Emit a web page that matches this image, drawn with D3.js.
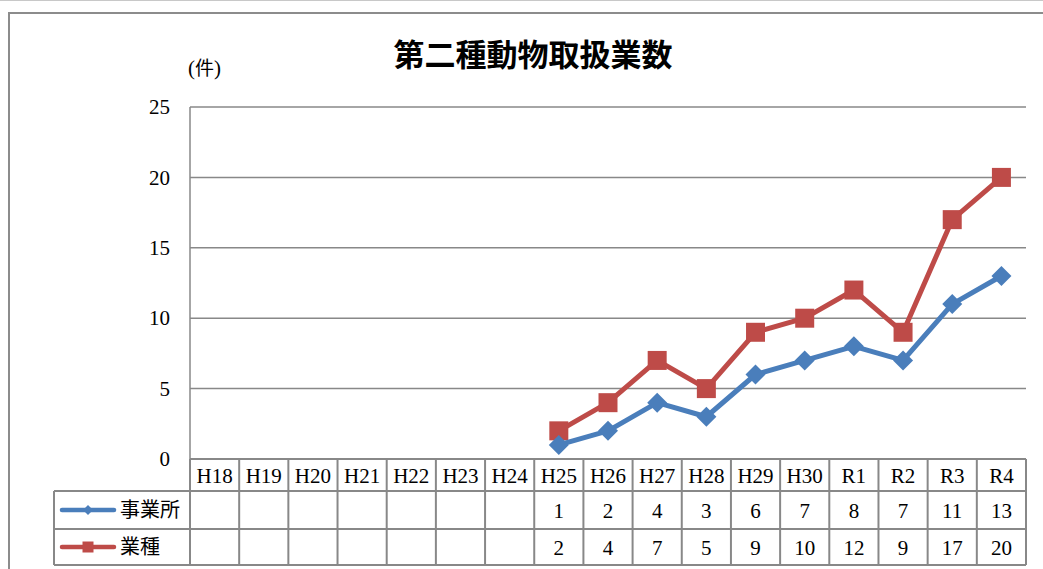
<!DOCTYPE html>
<html>
<head>
<meta charset="utf-8">
<script src="https://cdn.jsdelivr.net/npm/d3@7"></script>
<style>
  body { margin: 0; background: #fff; }
  svg { display: block; }
</style>
</head>
<body>
<svg id="chart" width="1043" height="569"></svg>
<script>
var categories = ['H18', 'H19', 'H20', 'H21', 'H22', 'H23', 'H24', 'H25', 'H26', 'H27', 'H28', 'H29', 'H30', 'R1', 'R2', 'R3', 'R4']
var jigyosho = [null, null, null, null, null, null, null, 1, 2, 4, 3, 6, 7, 8, 7, 11, 13]
var gyoshu = [null, null, null, null, null, null, null, 2, 4, 7, 5, 9, 10, 12, 9, 17, 20]
var yTicks = [0, 5, 10, 15, 20, 25]

var series = [
  { name: '事業所', values: jigyosho, color: '#4a7ebb', marker: 'diamond' },
  { name: '業種', values: gyoshu, color: '#be4b48', marker: 'square' }
]

var serif = '"Liberation Serif", "DejaVu Serif", serif'
var jp = '"Noto Sans CJK JP", sans-serif'
var gridColor = '#888888'

var svg = d3.select('#chart')

// page rule + outer frame
svg.append('line')
  .attr('x1', 0).attr('x2', 1043).attr('y1', 0.5).attr('y2', 0.5)
  .attr('stroke', '#c8c8c8').attr('stroke-width', 1)
svg.append('rect')
  .attr('x', 9).attr('y', 13).attr('width', 1060).attr('height', 600)
  .attr('fill', 'none').attr('stroke', '#8c8c8c').attr('stroke-width', 2)

var plot = { left: 190, right: 1026, top: 107, bottom: 459 }

var x = d3.scaleBand().domain(categories).range([plot.left, plot.right])
var y = d3.scaleLinear().domain([0, 25]).range([plot.bottom, plot.top])

// title
svg.append('text')
  .attr('x', 533).attr('y', 66)
  .attr('text-anchor', 'middle')
  .attr('font-family', jp).attr('font-weight', 'bold').attr('font-size', 31)
  .text('第二種動物取扱業数')

var unit = svg.append('text')
  .attr('x', 188).attr('y', 75)
  .attr('font-size', 21)
unit.append('tspan').attr('font-family', serif).text('(')
unit.append('tspan').attr('font-family', jp).attr('font-size', 19).text('件')
unit.append('tspan').attr('font-family', serif).text(')')

// gridlines
svg.append('g').selectAll('line').data(yTicks).join('line')
  .attr('x1', plot.left).attr('x2', plot.right)
  .attr('y1', function (d) { return y(d) }).attr('y2', function (d) { return y(d) })
  .attr('stroke', gridColor).attr('stroke-width', 1.5)

svg.append('line')
  .attr('x1', plot.left).attr('x2', plot.left)
  .attr('y1', plot.top).attr('y2', plot.bottom)
  .attr('stroke', gridColor).attr('stroke-width', 1.5)

// y axis labels
var yAxis = d3.axisLeft(y).tickValues(yTicks).tickSize(0).tickPadding(20)
var gy = svg.append('g').attr('transform', 'translate(' + plot.left + ',0)').call(yAxis)
gy.select('.domain').remove()
gy.selectAll('text')
  .attr('font-family', serif).attr('font-size', 21).attr('fill', '#000')
  .attr('dy', '0.32em')

// data table
var rowY = [459, 491, 529, 565]
var legendLeft = 54
var tbl = svg.append('g')

tbl.selectAll('line.h').data(rowY).join('line')
  .attr('class', 'h')
  .attr('x1', function (d, i) { return i === 0 ? plot.left : legendLeft })
  .attr('x2', plot.right)
  .attr('y1', function (d) { return d }).attr('y2', function (d) { return d })
  .attr('stroke', gridColor).attr('stroke-width', 2)

var colEdges = categories.map(function (c) { return x(c) }).concat([plot.right])
tbl.selectAll('line.v').data(colEdges).join('line')
  .attr('class', 'v')
  .attr('x1', function (d) { return d }).attr('x2', function (d) { return d })
  .attr('y1', rowY[0]).attr('y2', rowY[3])
  .attr('stroke', gridColor).attr('stroke-width', 2)
tbl.append('line')
  .attr('x1', legendLeft).attr('x2', legendLeft)
  .attr('y1', rowY[1]).attr('y2', rowY[3])
  .attr('stroke', gridColor).attr('stroke-width', 2)

tbl.selectAll('text.cat').data(categories).join('text')
  .attr('class', 'cat')
  .attr('x', function (d) { return x(d) + x.bandwidth() / 2 })
  .attr('y', (rowY[0] + rowY[1]) / 2 + 1)
  .attr('dy', '0.35em')
  .attr('text-anchor', 'middle')
  .attr('font-family', serif).attr('font-size', 21)
  .text(function (d) { return d })

// custom markers: diamond is a square turned 45 degrees
function markerPath (type, r) {
  if (type === 'diamond') {
    return 'M0,' + (-r) + 'L' + r + ',0L0,' + r + 'L' + (-r) + ',0Z'
  }
  return 'M' + (-r) + ',' + (-r) + 'H' + r + 'V' + r + 'H' + (-r) + 'Z'
}

series.forEach(function (s, si) {
  var cy = (rowY[si + 1] + rowY[si + 2]) / 2
  tbl.selectAll('text.v' + si).data(s.values).join('text')
    .attr('class', 'v' + si)
    .attr('x', function (d, i) { return x(categories[i]) + x.bandwidth() / 2 })
    .attr('y', cy + 1)
    .attr('dy', '0.35em')
    .attr('text-anchor', 'middle')
    .attr('font-family', serif).attr('font-size', 21)
    .text(function (d) { return d == null ? '' : d })
  tbl.append('line')
    .attr('x1', 62).attr('x2', 114).attr('y1', cy).attr('y2', cy)
    .attr('stroke', s.color).attr('stroke-width', 4.5).attr('stroke-linecap', 'round')
  tbl.append('path')
    .attr('d', markerPath(s.marker, s.marker === 'diamond' ? 5 : 5.5))
    .attr('transform', 'translate(88,' + cy + ')')
    .attr('fill', s.color)
  tbl.append('text')
    .attr('x', 120).attr('y', cy).attr('dy', '0.36em')
    .attr('font-family', jp).attr('font-size', 20)
    .text(s.name)
})

var line = d3.line()
  .defined(function (d) { return d != null })
  .x(function (d, i) { return x(categories[i]) + x.bandwidth() / 2 })
  .y(function (d) { return y(d) })

// red drawn first, blue on top
var order = [series[1], series[0]]
order.forEach(function (s) {
  svg.append('path')
    .datum(s.values)
    .attr('fill', 'none')
    .attr('stroke', s.color).attr('stroke-width', 5)
    .attr('stroke-linejoin', 'round')
    .attr('d', line)
  svg.append('g').selectAll('path')
    .data(s.values.map(function (v, i) { return { v: v, i: i } }).filter(function (d) { return d.v != null }))
    .join('path')
    .attr('d', markerPath(s.marker, s.marker === 'diamond' ? 10 : 9.5))
    .attr('transform', function (d) {
      return 'translate(' + (x(categories[d.i]) + x.bandwidth() / 2) + ',' + y(d.v) + ')'
    })
    .attr('fill', s.color)
})
</script>
</body>
</html>
